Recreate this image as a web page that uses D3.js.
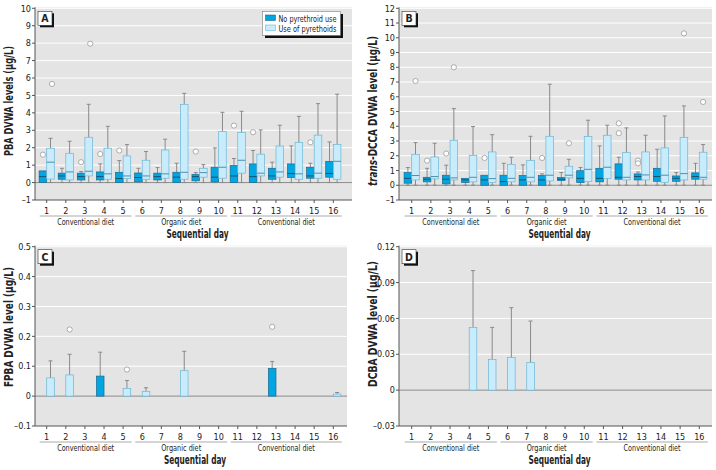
<!DOCTYPE html>
<html><head><meta charset="utf-8">
<script src="https://cdn.jsdelivr.net/npm/d3@7"></script>
<style>
body{margin:0;background:#fff;}
text{font-family:"Liberation Sans Narrow","DejaVu Sans Condensed","Arial Narrow",sans-serif;fill:#222;}
</style></head>
<body><svg id="c" width="716" height="470"></svg>
<script>
// ---------- data ----------
const days = [1,2,3,4,5,6,7,8,9,10,11,12,13,14,15,16];
const groupLabels = ["Conventional diet","Organic diet","Conventional diet"];
const groupStart = [1,6,11];
const groupEnd = [5,10,16];
const legendLabels = ["No pyrethroid use","Use of pyrethoids"];

// box rows: [lowWhisker, q1, median, q3, highWhisker], one per day
const pbaNone = [[0,0,0.34,0.67,0.67],[0,0.19,0.38,0.54,0.82],[0,0.15,0.34,0.54,0.63],[0,0.15,0.34,0.61,1.07],
  [0,0,0.23,0.59,1.26],[0,0.04,0.29,0.55,0.82],[0,0.15,0.34,0.54,0.86],[0,0,0.31,0.59,1.11],
  [0,0.1,0.34,0.46,0.57],[0,0.04,0.31,0.88,1.99],[0,0,0.38,0.98,1.38],[0,0,0.34,1.07,1.84],
  [0,0.19,0.38,0.82,1.17],[0,0.29,0.52,1.07,2.1],[0,0.25,0.38,0.88,1.11],[0,0.31,0.52,1.22,2.33]];
const pbaUse = [[0,0.2,1.17,1.97,2.54],[0,0.15,0.61,1.68,2.37],[0,0.38,0.65,2.6,4.49],[0,0.19,0.5,1.97,3.23],
  [0,0.23,0.38,1.53,2.18],[0,0.19,0.38,1.28,1.78],[0,0.25,0.5,1.87,2.49],[0,0.19,0.59,4.49,5.12],
  [0,0.31,0.57,0.82,1.03],[0,0.25,0.88,2.93,4.03],[0,0.54,1.28,2.87,4.09],[0,0.38,0.54,1.63,3.02],
  [0,0.31,0.61,2.1,3.29],[0,0.19,0.5,2.31,3.8],[0,0.25,0.54,2.72,4.53],[0,0.19,1.22,2.18,5.07]];
const pbaNoneOut = [[1,1.6],[3,1.17],[4,1.64],[5,1.84],[9,1.78],[11,3.27],[12,2.89],[15,2.31]];
const pbaUseOut = [[1,5.66],[3,7.97]];

const dccaNone = [[0,0.14,0.47,0.86,1.2],[0,0.23,0.41,0.54,1.15],[0,0.09,0.41,0.68,1.36],[0,0.18,0.36,0.47,0.47],
  [0,0,0.36,0.68,0.68],[0,0,0.25,0.68,1.49],[0,0,0.36,0.66,1.38],[0,0,0.36,0.66,0.77],
  [0,0.32,0.41,0.52,0.86],[0,0.18,0.47,0.99,1.2],[0,0.23,0.47,1.15,2.67],[0,0.41,0.54,1.45,1.9],
  [0,0.36,0.59,0.77,0.9],[0,0.27,0.59,1.15,2.44],[0,0.27,0.47,0.63,0.86],[0,0.41,0.59,0.84,1.49]];
const dccaUse = [[0,0.36,0.66,2.1,2.89],[0,0.43,0.59,1.92,2.85],[0,0.36,0.5,3.05,5.2],[0,0.23,0.54,2.03,3.98],
  [0,0.18,0.45,2.26,3.43],[0,0.23,0.47,1.42,1.9],[0,0.23,0.54,1.67,3.32],[0,0.29,0.68,3.32,6.85],
  [0,0.5,0.68,1.29,1.76],[0,0.25,1.08,3.3,4.41],[0,0.47,1.22,3.39,4.07],[0,0.36,0.54,2.21,3.89],
  [0,0.36,0.7,2.26,3.39],[0,0.2,0.68,2.53,4.7],[0,0.36,0.79,3.25,5.38],[0,0.41,0.54,2.24,2.76]];
const dccaNoneOut = [[2,1.67],[3,2.15],[5,1.85],[8,1.85],[12,4.2],[12,3.53],[13,1.67],[13,1.49]];
const dccaUseOut = [[1,7.07],[3,8.0],[9,2.85],[15,10.3],[16,5.65]];

// bar panels: days, mean, upper error
const fpbaNoneDays = [4,13], fpbaNoneMean = [0.067,0.093], fpbaNoneUpper = [0.147,0.116];
const fpbaUseDays = [1,2,5,6,8,16], fpbaUseMean = [0.061,0.071,0.026,0.016,0.085,0.007], fpbaUseUpper = [0.118,0.14,0.052,0.028,0.15,0.012];
const fpbaNoneOut = [[13,0.232]];
const fpbaUseOut = [[2,0.223],[5,0.089]];
const dcbaUseDays = [4,5,6,7], dcbaUseMean = [0.0525,0.0257,0.0274,0.023], dcbaUseUpper = [0.1,0.0525,0.069,0.0578];

const ticksA = [-1,0,1,2,3,4,5,6,7,8,9,10];
const ticksB = [-1,0,1,2,3,4,5,6,7,8,9,10,11,12];
const ticksC = [-0.1,0,0.1,0.2,0.3,0.4,0.5];
const ticksD = [-0.03,0,0.03,0.06,0.09,0.12];

// ---------- drawing ----------
const svg = d3.select("#c");
const DARK = "#00a6e2", DARKS = "#1a6a90", LIGHT = "#c8ecfb", LIGHTS = "#6bb6d6";
const BW = 7.6;
const fmtMinus = v => (v < 0 ? "\u2013" + String(-v) : String(v));
const fit = (sel, len) => sel.attr("textLength", len).attr("lengthAdjust", "spacingAndGlyphs");

function panel(p) {
  const g = svg.append("g");
  const y = d3.scaleLinear().domain([p.ticks[0], p.ticks[p.ticks.length-1]]).range([p.yb, p.yt]);
  const x = d3.scaleLinear().domain([1,16]).range([p.d1, p.d16]);
  g.append("rect").attr("x", p.x0).attr("y", p.yt - 1).attr("width", p.x1 - p.x0).attr("height", p.yb - p.yt + 1).attr("fill", "#e4e4e4");
  g.selectAll(".grid").data(p.ticks.filter(t => t !== 0 && t !== p.ticks[0])).join("line")
    .attr("x1", p.x0).attr("x2", p.x1).attr("y1", d => y(d)).attr("y2", d => y(d))
    .attr("stroke", "#fff").attr("stroke-width", 1);
  g.append("line").attr("x1", p.x0).attr("x2", p.x1).attr("y1", y(0)).attr("y2", y(0)).attr("stroke", "#8c8c8c").attr("stroke-width", 1);
  // axes
  g.append("line").attr("x1", p.x0).attr("x2", p.x0).attr("y1", p.yt - 1).attr("y2", p.yb).attr("stroke", "#555");
  g.append("line").attr("x1", p.x0).attr("x2", p.x1).attr("y1", p.yb).attr("y2", p.yb).attr("stroke", "#555");
  g.selectAll(".yt").data(p.ticks).join("line").attr("x1", p.x0 - 3).attr("x2", p.x0).attr("y1", d => y(d)).attr("y2", d => y(d)).attr("stroke", "#555");
  g.selectAll(".ytl").data(p.ticks).join("text").attr("x", p.x0 - 4).attr("y", d => y(d) + 3.2)
    .attr("text-anchor", "end").attr("font-size", 9).attr("fill", "#333").text(fmtMinus);
  g.selectAll(".xt").data(days).join("line").attr("x1", d => x(d)).attr("x2", d => x(d)).attr("y1", p.yb).attr("y2", p.yb + 3).attr("stroke", "#555");
  g.selectAll(".xtl").data(days).join("text").attr("x", d => x(d)).attr("y", p.yb + 13.5)
    .attr("text-anchor", "middle").attr("font-size", 9).attr("fill", "#333").text(d => d);
  groupLabels.forEach((lab, i) => {
    const a = x(groupStart[i]) - 7, b = Math.min(x(groupEnd[i]) + 8.5, p.x1);
    g.append("line").attr("x1", a).attr("x2", b).attr("y1", p.yb + 16).attr("y2", p.yb + 16).attr("stroke", "#aaa");
    const t = g.append("text").attr("x", (a + b) / 2).attr("y", p.yb + 25).attr("text-anchor", "middle")
      .attr("font-size", 9.5).attr("fill", "#333").text(lab);
    fit(t, lab.length > 14 ? 57 : 40);
  });
  fit(g.append("text").attr("x", (p.x0 + p.x1) / 2 + 4).attr("y", p.yb + 37.5).attr("text-anchor", "middle")
    .attr("font-size", 12).attr("font-weight", "bold").text("Sequential day"), 62);
  // y label
  const yl = g.append("text").attr("transform", `translate(${p.ylx},${p.ylc}) rotate(-90)`)
    .attr("text-anchor", "middle").attr("font-size", 11.5).attr("font-weight", "bold");
  p.ylabel.forEach(part => yl.append("tspan").attr("font-style", part[1] ? "italic" : null).text(part[0]));
  fit(yl, p.yll);
  p.draw(g, x, y);
  // letter box
  g.append("rect").attr("x", p.x0 + 5).attr("y", p.yt + 5).attr("width", 14).attr("height", 14).attr("fill", "#111");
  g.append("rect").attr("x", p.x0 + 3).attr("y", p.yt + 3).attr("width", 14).attr("height", 14).attr("fill", "#fff").attr("stroke", "#333").attr("stroke-width", 0.6);
  g.append("text").attr("x", p.x0 + 10).attr("y", p.yt + 14).attr("text-anchor", "middle").attr("font-size", 10.5).attr("font-weight", "bold").text(p.letter);
}

function boxes(g, x, y, rows, dx, fill, stroke, med) {
  rows.forEach((r, i) => {
    const cx = x(days[i]) + dx + BW / 2;
    const [lo, q1, m, q3, hi] = r;
    if (hi > q3) {
      g.append("line").attr("x1", cx).attr("x2", cx).attr("y1", y(q3)).attr("y2", y(hi)).attr("stroke", "#8a8a8a");
      g.append("line").attr("x1", cx - 2).attr("x2", cx + 2).attr("y1", y(hi)).attr("y2", y(hi)).attr("stroke", "#8a8a8a");
    }
    if (q1 > lo) {
      g.append("line").attr("x1", cx).attr("x2", cx).attr("y1", y(q1)).attr("y2", y(lo)).attr("stroke", "#8a8a8a");
      g.append("line").attr("x1", cx - 2).attr("x2", cx + 2).attr("y1", y(lo)).attr("y2", y(lo)).attr("stroke", "#8a8a8a");
    }
    g.append("rect").attr("x", x(days[i]) + dx).attr("y", y(q3)).attr("width", BW).attr("height", Math.max(0.5, y(q1) - y(q3)))
      .attr("fill", fill).attr("stroke", stroke).attr("stroke-width", 0.7);
    g.append("line").attr("x1", x(days[i]) + dx).attr("x2", x(days[i]) + dx + BW).attr("y1", y(m)).attr("y2", y(m)).attr("stroke", med).attr("stroke-width", 1);
  });
}
function outliers(g, x, y, pts, dx) {
  g.selectAll(null).data(pts).join("circle").attr("cx", d => x(d[0]) + dx + BW / 2).attr("cy", d => y(d[1])).attr("r", 2.6)
    .attr("fill", "#fff").attr("stroke", "#999").attr("stroke-width", 0.8);
}
function bars(g, x, y, ds, mean, upper, dx, fill, stroke) {
  ds.forEach((d, i) => {
    const cx = x(d) + dx + BW / 2;
    g.append("line").attr("x1", cx).attr("x2", cx).attr("y1", y(mean[i])).attr("y2", y(upper[i])).attr("stroke", "#8a8a8a");
    g.append("line").attr("x1", cx - 2).attr("x2", cx + 2).attr("y1", y(upper[i])).attr("y2", y(upper[i])).attr("stroke", "#8a8a8a");
    g.append("rect").attr("x", x(d) + dx).attr("y", y(mean[i])).attr("width", BW).attr("height", y(0) - y(mean[i]))
      .attr("fill", fill).attr("stroke", stroke).attr("stroke-width", 0.7);
  });
}

panel({x0: 35, x1: 352, yt: 8.3, yb: 200, d1: 46.7, d16: 333.3, ticks: ticksA, letter: "A", ylx: 13, ylc: 101, yll: 110,
  ylabel: [["PBA DVWA levels (\u03bcg/L)", false]],
  draw: (g, x, y) => {
    boxes(g, x, y, pbaNone, -BW, DARK, DARKS, "#17506c");
    boxes(g, x, y, pbaUse, 0, LIGHT, LIGHTS, "#4f8faf");
    outliers(g, x, y, pbaNoneOut, -BW);
    outliers(g, x, y, pbaUseOut, 1.5);
    // legend
    g.append("rect").attr("x", 265).attr("y", 14).attr("width", 78).attr("height", 24).attr("fill", "#111");
    g.append("rect").attr("x", 262.5).attr("y", 11.5).attr("width", 78).attr("height", 24).attr("fill", "#fff").attr("stroke", "#666").attr("stroke-width", 0.5);
    [DARK, LIGHT].forEach((c, i) => {
      g.append("rect").attr("x", 265.5).attr("y", 15 + i * 10).attr("width", 10).attr("height", 5.5).attr("fill", c).attr("stroke", i ? LIGHTS : DARKS).attr("stroke-width", 0.6);
      fit(g.append("text").attr("x", 278.5).attr("y", 21.5 + i * 10).attr("font-size", 9.5).attr("fill", "#333").text(legendLabels[i]), 58);
    });
  }});

panel({x0: 399, x1: 712, yt: 8.3, yb: 200, d1: 411.7, d16: 699.3, ticks: ticksB, letter: "B", ylx: 377, ylc: 111, yll: 150,
  ylabel: [["trans", true], ["-DCCA DVWA level (\u03bcg/L)", false]],
  draw: (g, x, y) => {
    boxes(g, x, y, dccaNone, -BW, DARK, DARKS, "#17506c");
    boxes(g, x, y, dccaUse, 0, LIGHT, LIGHTS, "#4f8faf");
    outliers(g, x, y, dccaNoneOut, -BW);
    outliers(g, x, y, dccaUseOut, 0);
  }});

panel({x0: 35, x1: 347, yt: 246.7, yb: 426, d1: 46.7, d16: 333.3, ticks: ticksC, letter: "C", ylx: 13, ylc: 327, yll: 120,
  ylabel: [["FPBA DVWA level (\u03bcg/L)", false]],
  draw: (g, x, y) => {
    bars(g, x, y, fpbaNoneDays, fpbaNoneMean, fpbaNoneUpper, -BW, DARK, DARKS);
    bars(g, x, y, fpbaUseDays, fpbaUseMean, fpbaUseUpper, 0, LIGHT, LIGHTS);
    outliers(g, x, y, fpbaNoneOut, -BW);
    outliers(g, x, y, fpbaUseOut, 0);
  }});

panel({x0: 399, x1: 712, yt: 246.7, yb: 426, d1: 411.7, d16: 699.3, ticks: ticksD, letter: "D", ylx: 377, ylc: 324, yll: 126,
  ylabel: [["DCBA DVWA level (\u03bcg/L)", false]],
  draw: (g, x, y) => {
    bars(g, x, y, dcbaUseDays, dcbaUseMean, dcbaUseUpper, 0, LIGHT, LIGHTS);
  }});
</script></body></html>
